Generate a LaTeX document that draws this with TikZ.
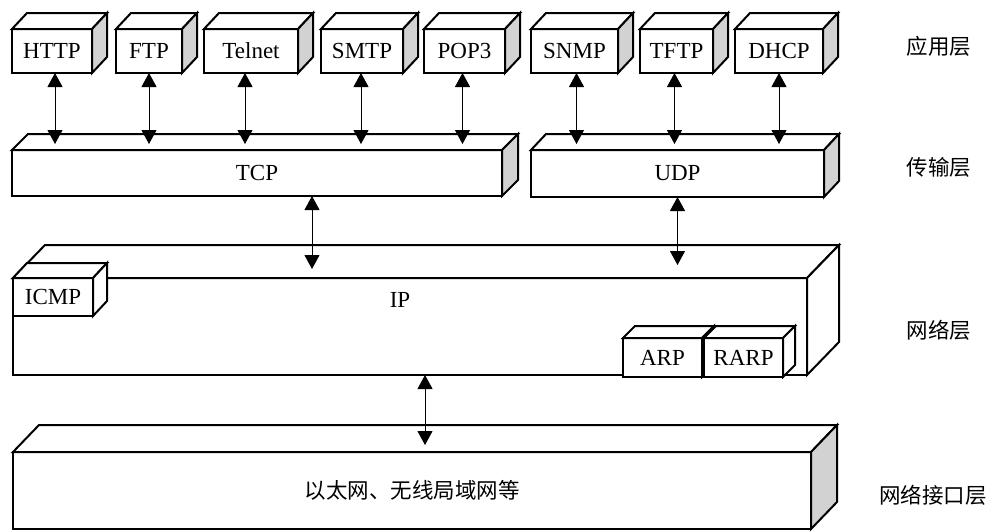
\documentclass[tikz,border=0pt]{standalone}
\usepackage{fontspec}
\setmainfont{Liberation Serif}
\newfontfamily\cjk{Noto Sans CJK SC}
\usetikzlibrary{arrows.meta,calc}

\definecolor{sidegray}{RGB}{210,210,210}

\tikzset{
  face/.style={draw, line width=2pt, fill=white, inner sep=0pt, outer sep=0pt,
               font=\fontsize{23}{23}\selectfont},
  rim/.style={draw, line width=2pt, line join=miter},
  link/.style={line width=0.9pt,
               {Triangle[length=14pt,width=15pt]}-{Triangle[length=14pt,width=15pt]}},
  layer/.style={font=\cjk\fontsize{21.5}{21.5}\selectfont},
}

% \slab{name}{x1}{y1}{x2}{y2}{depth x}{depth y}{side fill}{text}
\newcommand\slab[9]{%
  \node[face, anchor=north west, minimum width={(#4-#2)*1pt},
        minimum height={(#5-#3)*1pt}] (#1) at (#2,#3) {#9};
  \draw[rim, fill=white] (#1.north west) -- ++(#6,-#7)
        -- ($(#1.north east)+(#6,-#7)$) -- (#1.north east) -- cycle;
  \draw[rim, fill=#8] (#1.north east) -- ++(#6,-#7)
        -- ($(#1.south east)+(#6,-#7)$) -- (#1.south east) -- cycle;
}

\begin{document}
\begin{tikzpicture}[x=1pt, y=-1pt]
\useasboundingbox (0,0) rectangle (993,531);

% application layer
\slab{http}{12}{29}{92}{73}{15}{16}{sidegray}{HTTP}
\slab{ftp}{116}{29}{182}{73}{15}{16}{sidegray}{FTP}
\slab{telnet}{204}{29}{298}{73}{15}{16}{sidegray}{Telnet}
\slab{smtp}{321}{29}{403}{73}{15}{16}{sidegray}{SMTP}
\slab{pop}{424}{29}{505}{73}{15}{16}{sidegray}{POP3}
\slab{snmp}{531}{29}{618}{73}{15}{16}{sidegray}{SNMP}
\slab{tftp}{640}{29}{713}{73}{15}{16}{sidegray}{TFTP}
\slab{dhcp}{735}{29}{823}{73}{15}{16}{sidegray}{DHCP}

% transport layer
\slab{tcp}{12}{150}{502}{196}{16}{16}{sidegray}{TCP}
\slab{udp}{531}{150}{824}{197}{15}{16}{sidegray}{UDP}

% internet layer
\slab{ip}{13}{278}{807}{375}{32}{33}{white}{}
\node[font=\fontsize{23}{23}\selectfont] (iptext) at (400,300) {IP};
\slab{icmp}{13}{278}{93}{316}{14}{15}{white}{ICMP}
\slab{arp}{623}{338}{702}{377}{12}{12}{white}{ARP}
\slab{rarp}{704}{338}{783}{377}{12}{12}{white}{RARP}

% network interface layer
\slab{net}{13}{452}{811}{529}{26}{27}{sidegray}{\cjk\fontsize{21.5}{21.5}\selectfont 以太网、无线局域网等}

% links between layers
\foreach \n/\dx in {http/3,ftp/0,telnet/-6,smtp/-1,pop/-2,snmp/2,tftp/-2,dhcp/0}
  \draw[link] ([xshift=\dx pt]\n.south) -- ([xshift=\dx pt, yshift=6pt]\n.south |- tcp.north);

\coordinate (tcpout) at ([xshift=55pt]tcp.south);
\draw[link] (tcpout) -- ([yshift=9pt]tcpout |- ip.north);
\draw[link] (udp.south) -- ([yshift=13pt]udp.south |- ip.north);
\coordinate (ipout) at ([xshift=15pt]ip.south);
\draw[link] (ipout) -- ([yshift=7pt]ipout |- net.north);

% layer names
\node[layer] (l1) at (939,46) {应用层};
\node[layer] (l2) at (939,167) {传输层};
\node[layer] (l3) at (939,330) {网络层};
\node[layer] (l4) at (933,495) {网络接口层};
\end{tikzpicture}
\end{document}
